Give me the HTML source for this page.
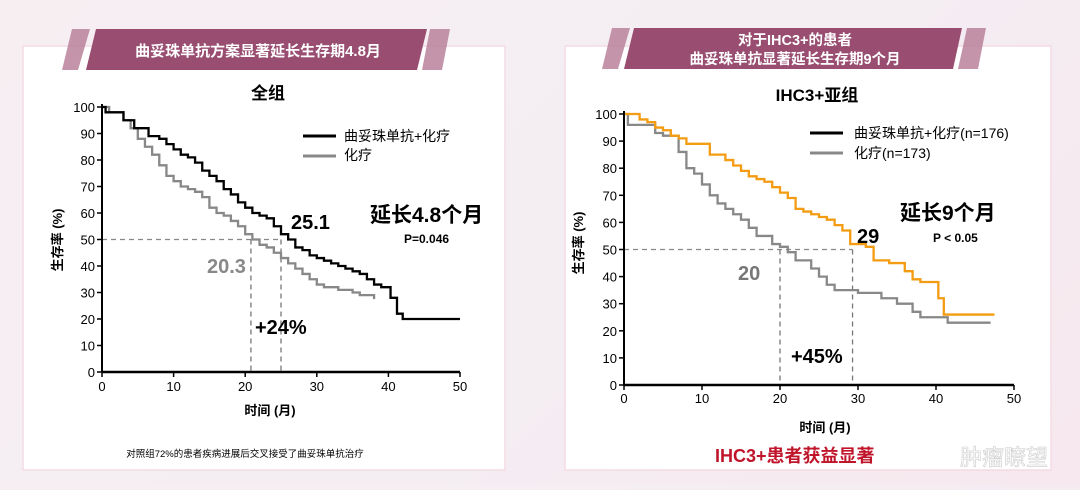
<!DOCTYPE html>
<html><head><meta charset="utf-8"><style>
body{margin:0;width:1080px;height:485px;overflow:hidden;background:linear-gradient(135deg,#f7eef2 0%,#f4eef3 50%,#f6e8ee 100%);font-family:"Liberation Sans","Noto Sans CJK SC",sans-serif;}
svg text{font-family:"Liberation Sans","Noto Sans CJK SC",sans-serif;}
</style></head><body>
<svg id="s" width="1080" height="485" viewBox="0 0 1080 485">
<rect x="23" y="46" width="482" height="424" fill="#fff" stroke="#f3dbe3" stroke-width="1.5"/>
<rect x="565" y="46" width="486" height="424" fill="#fff" stroke="#f3dbe3" stroke-width="1.5"/>
<polygon points="72,29 90,29 78,70 62,70" fill="#b57a95" opacity="0.8"/>
<polygon points="96,29 427,29 417,70 86,70" fill="#984d71"/>
<polygon points="430,29 450,29 442,70 422,70" fill="#b57a95" opacity="0.8"/>
<text x="258" y="56" font-size="15" font-weight="bold" fill="#fff" text-anchor="middle">曲妥珠单抗方案显著延长生存期4.8月</text>
<polygon points="612,28 630,28 618,69 602,69" fill="#b57a95" opacity="0.8"/>
<polygon points="634,28 962,28 953,69 624,69" fill="#984d71"/>
<polygon points="967,28 986,28 978,69 958,69" fill="#b57a95" opacity="0.8"/>
<text x="795" y="45" font-size="14.5" font-weight="bold" fill="#fff" text-anchor="middle">对于IHC3+的患者</text>
<text x="795" y="64" font-size="14.5" font-weight="bold" fill="#fff" text-anchor="middle">曲妥珠单抗显著延长生存期9个月</text>
<g id="L"></g><g id="R"></g>
<text x="268" y="99" font-size="17" font-weight="bold" text-anchor="middle">全组</text>
<text x="817" y="101" font-size="17" font-weight="bold" text-anchor="middle">IHC3+亚组</text>
<line x1="303" y1="136" x2="336" y2="136" stroke="#000" stroke-width="3"/>
<line x1="303" y1="156" x2="336" y2="156" stroke="#888" stroke-width="3"/>
<text x="344" y="141" font-size="14">曲妥珠单抗+化疗</text>
<text x="344" y="160" font-size="14">化疗</text>
<line x1="810" y1="133" x2="843" y2="133" stroke="#000" stroke-width="3"/>
<line x1="810" y1="153" x2="843" y2="153" stroke="#888" stroke-width="3"/>
<text x="854" y="138" font-size="14">曲妥珠单抗+化疗(n=176)</text>
<text x="854" y="158" font-size="14">化疗(n=173)</text>
<text x="370" y="222" font-size="21" font-weight="bold">延长4.8个月</text>
<text x="404" y="243" font-size="12" font-weight="bold">P=0.046</text>
<text x="900" y="220" font-size="21" font-weight="bold">延长9个月</text>
<text x="933" y="242" font-size="12" font-weight="bold">P &lt; 0.05</text>
<text x="291" y="229" font-size="20" font-weight="bold">25.1</text>
<text x="207" y="273" font-size="20" font-weight="bold" fill="#888">20.3</text>
<text x="255" y="334" font-size="20" font-weight="bold">+24%</text>
<text x="857" y="243" font-size="20" font-weight="bold">29</text>
<text x="738" y="280" font-size="20" font-weight="bold" fill="#777">20</text>
<text x="791" y="363" font-size="20" font-weight="bold">+45%</text>
<text x="270" y="415" font-size="13" font-weight="bold" text-anchor="middle">时间 (月)</text>
<text x="825" y="432" font-size="13" font-weight="bold" text-anchor="middle">时间 (月)</text>
<text x="62" y="240" font-size="13" font-weight="bold" transform="rotate(-90 62 240)" text-anchor="middle">生存率 (%)</text>
<text x="583" y="243" font-size="13" font-weight="bold" transform="rotate(-90 583 243)" text-anchor="middle">生存率 (%)</text>
<text x="245" y="457" font-size="9.5" text-anchor="middle">对照组72%的患者疾病进展后交叉接受了曲妥珠单抗治疗</text>
<text x="715" y="462" font-size="18" font-weight="bold" fill="#c0142a">IHC3+患者获益显著</text>
<text x="960" y="465" font-size="22" fill="#fff" stroke="#ccc" stroke-width="0.6">肿瘤瞭望</text>
</svg>
<script>
function chart(g,x0,x50,y0,y100,d1,d2,c1,c2,ds,ly){
 var sx=(x50-x0)/50, sy=(y0-y100)/100, h='';
 function X(m){return x0+m*sx} function Y(p){return y0-p*sy}
 function path(d,c){var s='M'+X(d[0][0])+','+Y(d[0][1]);for(var i=1;i<d.length;i++){s+=' H'+X(d[i][0])+' V'+Y(d[i][1]);}
  return '<path d="'+s+'" fill="none" stroke="'+c+'" stroke-width="2.3"/>';}
 h+='<line x1="'+x0+'" y1="'+Y(50)+'" x2="'+X(ds[1])+'" y2="'+Y(50)+'" stroke="#888" stroke-dasharray="5,4" stroke-width="1.3"/>';
 ds.forEach(function(m){h+='<line x1="'+X(m)+'" y1="'+Y(50)+'" x2="'+X(m)+'" y2="'+y0+'" stroke="#777" stroke-dasharray="5,4" stroke-width="1.3"/>';});
 h+=path(d2,c2)+path(d1,c1);
 h+='<line x1="'+x0+'" y1="'+(Y(100)-3)+'" x2="'+x0+'" y2="'+y0+'" stroke="#000" stroke-width="2"/>';
 h+='<line x1="'+x0+'" y1="'+y0+'" x2="'+x50+'" y2="'+y0+'" stroke="#000" stroke-width="2.5"/>';
 for(var p=0;p<=100;p+=10){h+='<line x1="'+(x0-5)+'" y1="'+Y(p)+'" x2="'+x0+'" y2="'+Y(p)+'" stroke="#000" stroke-width="1.5"/><text x="'+(x0-7)+'" y="'+(Y(p)+5)+'" font-size="13" text-anchor="end">'+p+'</text>';}
 for(var m=0;m<=50;m+=10){h+='<line x1="'+X(m)+'" y1="'+y0+'" x2="'+X(m)+'" y2="'+(y0+5)+'" stroke="#000" stroke-width="1.5"/><text x="'+X(m)+'" y="'+ly+'" font-size="13" text-anchor="middle">'+m+'</text>';}
 document.getElementById(g).innerHTML=h;
}
var LB=[[0,100],[0.5,98],[2.5,98],[3,95],[4.5,92],[6,92],[6.5,89],[8,88],[9,86],[10,84],[11,82],[12,81],[13,79],[14,76],[15,74],[16,72],[17,69],[18,67],[19,64],[20,62],[21,60],[22,59],[23,58],[24,55],[25,52],[26,50],[27,47],[28,46],[29,44],[30,43],[31,42],[32,41],[33,40],[34,39],[35,38],[36,37],[37,35],[38,33],[39,32],[40.3,28],[41.2,22],[42,20],[50,20]];
var LG=[[0,100],[1,98],[3,95],[4,92],[5,88],[6,85],[7,82],[8,78],[9,74],[10,72],[11,70],[12,69],[13,68],[14,66],[15,62],[16,60],[17,59],[18,57],[19,55],[20,52],[21,50],[22,48],[23,47],[24,45],[25,43],[26,41],[27,39],[28,37],[29,35],[30,33],[31,32],[33,31],[35,30],[36,29],[38,27.5]];
var RO=[[0,100],[1,100],[2,98],[3,97],[4,95],[5,94],[6,92],[7,91],[8,89],[10,89],[11,85],[13,83],[14,81],[15,79],[16,77],[17,76],[18,75],[19,73],[20,71],[21,69],[22,65],[23,64],[24,63],[25,62],[26,61],[27,59],[28,57],[29,52],[31,51],[32,46],[34,45],[36,42],[37,39],[38,38],[40.3,32],[41,26],[47.5,26]];
var RG=[[0,100],[0.5,96],[3,96],[4,93],[5,92],[7,86],[8,80],[9,78],[10,74],[11,70],[12,67],[13,65],[14,63],[15,61],[16,58],[17,55],[19,52],[20,51],[21,49],[22,46],[24,43],[25,40],[26,37],[27,35],[29,35],[30,34],[33,32],[35,30],[37,27],[38,25],[41,25],[41.5,23],[47,23]];
chart('L',102,460,372,107,LB,LG,'#000','#888',[20.8,25],391);
chart('R',624,1014,385,114,RO,RG,'#f39c12','#888',[20,29.3],403);
</script>
</body></html>
